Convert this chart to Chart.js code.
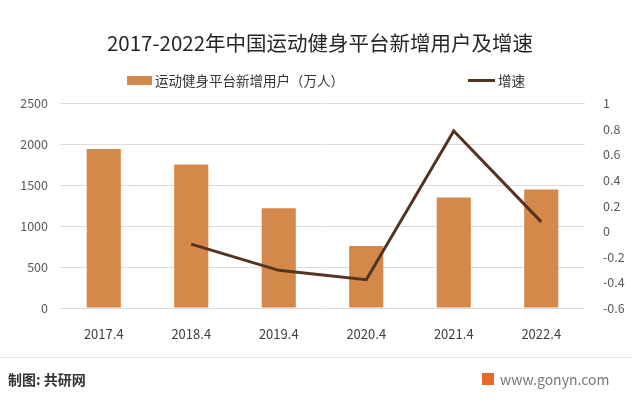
<!DOCTYPE html>
<html>
<head>
<meta charset="utf-8">
<script src="https://cdn.jsdelivr.net/npm/chart.js@4"></script>
<style>
  html, body { margin: 0; padding: 0; background: #fff; }
  #wrap { position: relative; width: 640px; height: 402px; font-family: "Noto Sans CJK SC", sans-serif; }
  #legend { position: absolute; top: 70px; left: 0; width: 640px; height: 20px; }
  .item { position: absolute; top: 0; display: flex; align-items: center; font-size: 13.5px; color: #333; height: 20px; }
  .sw { display: inline-block; margin-right: 3px; }
  #sep { position: absolute; left: 0; top: 357px; width: 632px; height: 1px; background: #e3e3e3; }
  #src { position: absolute; left: 8px; top: 369px; font-size: 14px; font-weight: bold; color: #333; }
  #site { position: absolute; left: 482px; top: 369px; font-size: 14px; color: #777; display: flex; align-items: center; }
  #logo { width: 12px; height: 12px; background: #e9692c; margin-right: 6px; }
</style>
</head>
<body>
<div id="wrap">
  <canvas id="chart" width="640" height="402"></canvas>
  <div id="legend"></div>
  <div id="sep"></div>
  <div id="src">制图: 共研网</div>
  <div id="site"><span id="logo"></span>www.gonyn.com</div>
</div>
<script>
// data
const categories = ["2017.4", "2018.4", "2019.4", "2020.4", "2021.4", "2022.4"];
const newUsers = [1945, 1755, 1220, 757, 1350, 1450];   // 万人
const growth = [null, -0.10, -0.305, -0.378, 0.785, 0.074];
const leftTicks = [0, 500, 1000, 1500, 2000, 2500];
const rightTicks = [-0.6, -0.4, -0.2, 0, 0.2, 0.4, 0.6, 0.8, 1];

const barColor = "#d4894a";
const lineColor = "#553322";
const fontFamily = '"Noto Sans CJK SC", sans-serif';

const chart = new Chart(document.getElementById("chart"), {
  type: "bar",
  data: {
    labels: categories,
    datasets: [
      {
        type: "line",
        label: "增速",
        data: growth,
        yAxisID: "y1",
        borderColor: lineColor,
        borderWidth: 3,
        pointRadius: 0,
        tension: 0,
        order: 0,
      },
      {
        type: "bar",
        label: "运动健身平台新增用户（万人）",
        data: newUsers,
        yAxisID: "y",
        backgroundColor: barColor,
        barPercentage: 0.39,
        categoryPercentage: 1,
        order: 1,
      },
    ],
  },
  options: {
    responsive: false,
    animation: false,
    layout: { padding: { top: 0, bottom: 50, left: 0, right: 0 } },
    plugins: {
      legend: { display: false },
      tooltip: { enabled: false },
      title: {
        display: true,
        text: "2017-2022年中国运动健身平台新增用户及增速",
        color: "#262626",
        font: { family: fontFamily, size: 20.5, weight: "normal" },
        padding: { top: 31, bottom: 48 },
      },
    },
    scales: {
      x: {
        grid: { display: false },
        border: { display: false },
        ticks: { color: "#404040", font: { family: fontFamily, size: 13 }, padding: 10 },
        afterFit: (s) => { s.height = 44; },
      },
      y: {
        position: "left",
        min: 0,
        max: 2500,
        afterBuildTicks: (s) => { s.ticks = leftTicks.map((v) => ({ value: v })); },
        grid: { color: "#dcdcdc", drawTicks: false },
        border: { display: false },
        ticks: {
          color: "#595959",
          font: { family: fontFamily, size: 12.5 },
          padding: 12,
          callback: (v) => String(v),
        },
        afterFit: (s) => { s.width = 60; },
      },
      y1: {
        position: "right",
        min: -0.6,
        max: 1,
        afterBuildTicks: (s) => { s.ticks = rightTicks.map((v) => ({ value: v })); },
        grid: { display: false },
        border: { display: false },
        ticks: {
          color: "#595959",
          font: { family: fontFamily, size: 12.5 },
          padding: 10,
          callback: (v) => String(parseFloat(v.toFixed(1))),
        },
        afterFit: (s) => { s.width = 55; },
      },
    },
  },
});

// html legend built from the chart's datasets, spread like the original
const legend = document.getElementById("legend");
const legendX = { "运动健身平台新增用户（万人）": 127, "增速": 468 };
chart.data.datasets.slice().reverse().forEach((ds) => {
  const item = document.createElement("div");
  item.className = "item";
  item.style.left = legendX[ds.label] + "px";
  const sw = document.createElement("span");
  sw.className = "sw";
  if (ds.type === "bar") {
    sw.style.width = "25px"; sw.style.height = "9px"; sw.style.background = ds.backgroundColor;
  } else {
    sw.style.width = "27px"; sw.style.height = "3px"; sw.style.background = ds.borderColor;
  }
  item.appendChild(sw);
  item.appendChild(document.createTextNode(ds.label));
  legend.appendChild(item);
});
</script>
</body>
</html>
